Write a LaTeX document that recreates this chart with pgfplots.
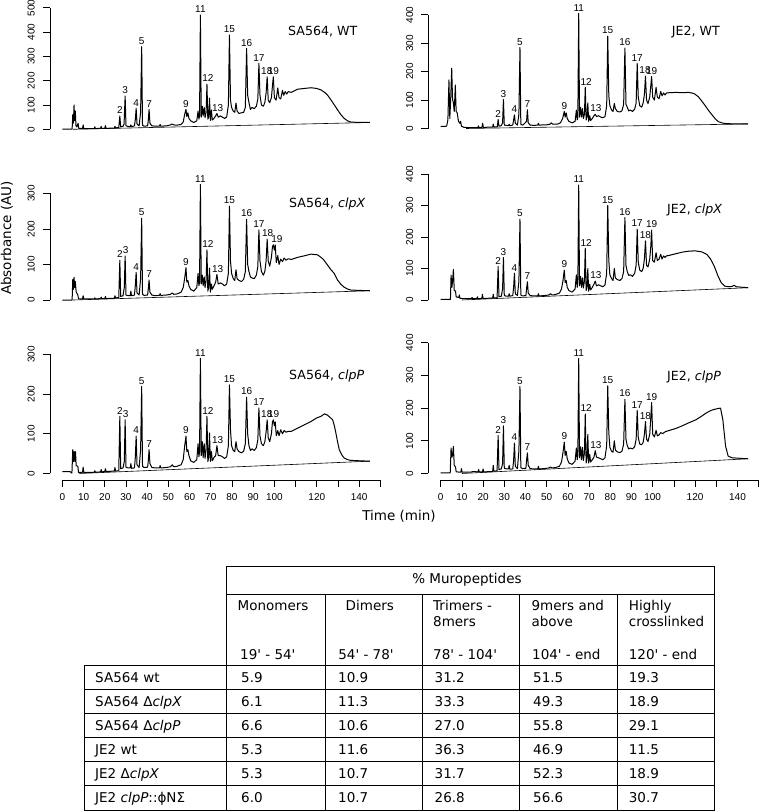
\documentclass[border=0pt]{standalone}
\usepackage{fontspec}
\usepackage{pgfplots}
\pgfplotsset{compat=1.18}
\newfontfamily\dv{DejaVu Sans}
\newfontfamily\lib{Liberation Sans}
\newcommand\tickfont{\lib\fontsize{10}{12}\selectfont}
\newcommand\pkfont{\lib\fontsize{10}{12}\selectfont}
\newcommand\bigfont{\dv\fontsize{13.5}{16}\selectfont}
\newcommand\titlefont{\dv\fontsize{12.6}{15}\selectfont}

\pgfplotsset{
  chrom/.style={
    scale only axis, width=334.2pt, anchor=south west,
    xmin=-5.84, xmax=151.8, clip=false,
    axis y line*=left,
    tick align=outside, major tick length=7pt,
    every tick/.style={black, line width=0.7pt},
    axis line style={line width=0.7pt},
    y axis line style={shorten <=6.6pt},
    yticklabel style={rotate=90, anchor=south, inner sep=0pt, font=\tickfont},
    yticklabel shift=8pt,
    /pgf/number format/assume math mode=true,
  },
  topx/.style={axis x line=none},
  bottomx/.style={
    axis x line*=bottom,
    x axis line style={shorten <=12.4pt, shorten >=3.8pt},
    xtick={0,10,...,150},
    xticklabels={0,10,20,30,40,50,60,70,80,90,100,,120,,140,},
    xticklabel style={anchor=north, inner sep=0pt, font=\tickfont},
    xticklabel shift=6pt,
  },
  trace/.style={black, line width=1pt, line join=round, mark=none},
  base/.style={black, line width=0.6pt, mark=none},
}
\tikzset{pk/.style={anchor=south, inner sep=0pt, yshift=2pt, font=\pkfont}}

\begin{document}
\begin{tikzpicture}
\useasboundingbox (0,0) rectangle (760pt,-811pt);

% ---- SA564, WT
\begin{axis}[chrom, topx, at={(50pt,-136pt)}, height=128.2pt, ymin=-27.6, ymax=500, ytick={0,100,...,500}]
\addplot[base] coordinates {(5,0) (145,28)};
\addplot[trace] coordinates {
(0,1) (4.6,1) (4.9,60) (5.2,25) (5.5,100) (5.8,35) (6.1,75) (6.4,15) (6.8,10) (7.4,25) (7.7,4) (9.5,3) (9.8,18) (10.1,3)
(15,3) (15.3,10) (15.6,3) (18,4) (18.3,12) (18.6,4) (20,4) (20.3,15) (20.6,4) (24.5,5) (24.8,12) (25.1,6) (26.6,7) (27.1,55)
(27.5,10) (28.6,12) (29.1,22) (29.6,137) (30,14) (31,12) (32,11) (32.3,18) (32.6,11) (34,14) (34.4,40) (34.8,86) (35.2,22)
(36.2,14) (36.9,70) (37.4,340) (37.8,16) (38.5,13) (40.2,14) (40.5,35) (40.9,82) (41.3,25) (42.2,14) (44,13) (45.8,13)
(46.1,20) (46.4,13) (49,14) (50,16) (51,18) (51.8,22) (52.5,18) (54,17) (56,20) (57,30) (57.7,62) (58.3,82) (58.7,52)
(59.2,68) (59.7,45) (60.5,35) (62,28) (63.4,35) (64,75) (64.4,42) (64.7,55) (65.1,470) (65.5,50) (66,95) (66.4,55) (66.9,90)
(67.3,48) (67.8,70) (68.2,186) (68.6,42) (69,50) (69.4,128) (69.8,36) (70.3,80) (70.7,38) (71.5,45) (72.3,55) (72.9,65)
(73.5,50) (74.5,55) (75.5,50) (76.5,45) (77.5,50) (78.3,100) (78.8,388) (79.3,120) (79.8,90) (80.6,75) (81.3,70) (81.9,108)
(82.4,75) (83.3,65) (84.5,68) (85.5,70) (86.3,90) (86.9,333) (87.4,140) (88,110) (88.7,82) (89.5,90) (90.5,85) (91.5,95)
(92.2,125) (92.7,272) (93.2,140) (93.9,100) (94.8,95) (95.5,110) (96.1,150) (96.6,216) (97.1,120) (97.8,110) (98.6,130)
(99.1,180) (99.5,216) (100,130) (100.8,120) (101.6,170) (102.2,130) (103,125) (103.8,160) (104.4,140) (105.1,155) (105.8,145)
(106.5,155) (108,152) (111,165) (114,168) (117.3,171) (120,168) (122,162) (124,150) (125.3,138) (126.7,121) (128.3,100)
(129.8,80) (131.4,60) (132.9,45) (134.5,35) (136,30) (140,28) (145,28)};
\node[pk] at (axis cs:27.1,55) {2}; \node[pk] at (axis cs:29.6,137) {3}; \node[pk] at (axis cs:34.8,86) {4};
\node[pk] at (axis cs:37.4,340) {5}; \node[pk] at (axis cs:40.9,82) {7}; \node[pk] at (axis cs:58.3,82) {9};
\node[pk] at (axis cs:65.1,470) {11}; \node[pk] at (axis cs:68.6,186) {12}; \node[pk] at (axis cs:73.2,65) {13};
\node[pk] at (axis cs:78.8,388) {15}; \node[pk] at (axis cs:86.9,333) {16}; \node[pk] at (axis cs:92.7,272) {17};
\node[pk] at (axis cs:96.4,216) {18}; \node[pk] at (axis cs:99.5,216) {19};
\end{axis}

% ---- JE2, WT
\begin{axis}[chrom, topx, at={(428.3pt,-135.2pt)}, height=120.4pt, ymin=-23.6, ymax=400, ytick={0,100,...,400}]
\addplot[base] coordinates {(12,0) (145,16)};
\addplot[trace] coordinates {
(0,7) (2.8,8) (3.4,30) (3.9,171) (4.3,35) (4.7,100) (5.2,212) (5.6,100) (5.9,95) (6.4,60) (6.9,153) (7.3,60) (7.8,55)
(8.4,25) (9.1,18) (9.4,25) (9.8,8) (11,4) (14,3) (17.5,3) (17.8,9) (18.1,3) (19.5,4) (19.8,18) (20.1,4) (24.5,5) (24.8,15)
(25.1,5) (26.7,6) (27.1,32) (27.5,8) (28.6,10) (29.2,20) (29.6,102) (30,12) (32,10) (32.3,15) (32.6,10) (34,12) (34.4,30)
(34.8,48) (35.2,18) (36.2,12) (36.9,50) (37.4,285) (37.8,14) (38.8,12) (40.5,25) (40.9,66) (41.3,20) (42.2,12) (44,11)
(45.8,12) (46.1,18) (46.4,12) (50,13) (51.5,15) (52.2,20) (52.8,15) (55,15) (56.5,20) (57.5,35) (58.3,60) (58.7,40)
(59.2,55) (59.7,35) (60.5,25) (62,20) (63.4,25) (64,65) (64.4,30) (64.7,40) (65.1,405) (65.5,40) (66,75) (66.4,40) (66.9,70)
(67.3,35) (67.8,50) (68.2,145) (68.6,30) (69,40) (69.4,90) (69.8,25) (70.3,45) (70.7,28) (71.5,35) (72.3,45) (72.9,50)
(73.5,42) (74.5,45) (75.5,40) (76.5,38) (77.5,42) (78.3,80) (78.8,325) (79.3,115) (79.8,80) (80.6,65) (81.3,60) (81.9,88)
(82.4,70) (83.3,60) (84.5,58) (85.5,62) (86.3,85) (86.9,283) (87.4,85) (88,75) (88.7,62) (89.5,65) (90.5,60) (91.5,68)
(92.2,90) (92.7,229) (93.2,110) (93.9,80) (94.8,75) (95.5,90) (96.1,120) (96.6,184) (97.1,100) (97.8,88) (98.6,110)
(99.1,150) (99.5,183) (100,110) (100.8,100) (101.6,145) (102.2,110) (103,105) (103.8,130) (104.4,115) (105.1,125)
(105.8,118) (106.5,125) (108,126) (111,127) (114,126) (117,127) (119.5,123) (121.5,112) (123,98) (125,78) (126.5,62)
(128,48) (129.5,34) (131,24) (133,19) (135,17) (140,16) (145,16)};
\node[pk] at (axis cs:27.1,32) {2}; \node[pk] at (axis cs:29.6,102) {3}; \node[pk] at (axis cs:34.8,48) {4};
\node[pk] at (axis cs:37.4,285) {5}; \node[pk] at (axis cs:40.9,66) {7}; \node[pk] at (axis cs:58.3,60) {9};
\node[pk] at (axis cs:65.1,405) {11}; \node[pk] at (axis cs:68.6,145) {12}; \node[pk] at (axis cs:73.2,50) {13};
\node[pk] at (axis cs:78.8,325) {15}; \node[pk] at (axis cs:86.9,283) {16}; \node[pk] at (axis cs:92.7,229) {17};
\node[pk] at (axis cs:96.4,184) {18}; \node[pk] at (axis cs:99.5,183) {19};
\end{axis}

% ---- SA564, clpX
\begin{axis}[chrom, topx, at={(50pt,-306.7pt)}, height=113.4pt, ymin=-18.8, ymax=300, ytick={0,100,...,300}]
\addplot[base] coordinates {(5,0) (145,26)};
\addplot[trace] coordinates {
(0,0) (4.6,0) (4.9,58) (5.2,30) (5.5,64) (5.8,35) (6.1,52) (6.5,23) (7.3,14) (7.6,3) (9.5,3) (9.8,12) (10.1,3) (15,3)
(15.3,6) (15.6,3) (18,4) (18.3,8) (18.6,4) (20,4) (20.3,10) (20.6,4) (24.5,5) (24.8,12) (25.1,6) (26.6,7) (27.1,112)
(27.5,10) (28.6,12) (29.2,35) (29.6,124) (30,14) (31,12) (32,12) (32.3,25) (32.6,12) (34,14) (34.4,40) (34.8,78) (35.2,20)
(36.2,14) (36.9,60) (37.4,230) (37.8,16) (38.5,13) (40.2,14) (40.5,30) (40.9,56) (41.3,22) (42.2,14) (44,12) (45.8,13)
(46.1,18) (46.4,13) (49,14) (50,15) (51,16) (51.8,20) (52.5,16) (54,17) (56,22) (57,35) (57.7,62) (58.3,91) (58.7,50)
(59.2,55) (59.7,40) (60.5,30) (62,25) (63.4,35) (64,75) (64.4,40) (64.7,50) (65.1,325) (65.5,45) (66,70) (66.4,40) (66.9,65)
(67.3,35) (67.8,55) (68.2,141) (68.6,25) (69,35) (69.4,90) (69.8,22) (70.3,45) (70.7,30) (71.5,40) (72.3,50) (72.9,72)
(73.5,45) (74.5,48) (75.5,45) (76.5,40) (77.5,45) (78.3,75) (78.8,264) (79.3,110) (79.8,75) (80.6,60) (81.3,55) (81.9,85)
(82.4,60) (83.3,55) (84.5,52) (85.5,58) (86.3,80) (86.9,227) (87.4,100) (88,80) (88.7,65) (89.5,62) (90.5,60) (91.5,70)
(92.2,95) (92.7,197) (93.2,110) (93.9,80) (94.8,70) (95.5,80) (96.1,110) (96.6,171) (97.1,110) (97.8,95) (98.6,120)
(99.1,150) (99.5,155) (100,140) (100.4,155) (100.9,105) (101.6,125) (102.2,100) (103,115) (103.8,108) (104.6,118)
(105.5,112) (106.5,116) (108,114) (111,120) (114,124) (117.3,129) (120.4,127) (123,115) (125.1,98) (126.7,85) (128.2,75)
(129.8,56) (131.4,44) (132.9,36) (134.5,31) (136,28) (140,27) (145,26)};
\node[pk] at (axis cs:27.1,112) {2}; \node[pk] at (axis cs:29.8,124) {3}; \node[pk] at (axis cs:34.8,78) {4};
\node[pk] at (axis cs:37.4,230) {5}; \node[pk] at (axis cs:40.9,56) {7}; \node[pk] at (axis cs:58.3,91) {9};
\node[pk] at (axis cs:65.1,325) {11}; \node[pk] at (axis cs:68.6,141) {12}; \node[pk] at (axis cs:73.2,72) {13};
\node[pk] at (axis cs:78.8,264) {15}; \node[pk] at (axis cs:86.9,227) {16}; \node[pk] at (axis cs:92.7,197) {17};
\node[pk] at (axis cs:96.8,171) {18}; \node[pk] at (axis cs:101.2,155) {19};
\end{axis}

% ---- JE2, clpX
\begin{axis}[chrom, topx, at={(428.3pt,-306.7pt)}, height=132.7pt, ymin=-21.3, ymax=400, ytick={0,100,...,400}]
\addplot[base] coordinates {(10,0) (145,39)};
\addplot[trace] coordinates {
(0,2) (4.6,2) (4.9,79) (5.3,40) (5.6,60) (6,97) (6.4,30) (7,28) (7.3,10) (8.5,8) (8.8,16) (9.1,5) (12,4) (14.5,4) (14.8,8)
(15.1,4) (17,4) (17.3,10) (17.6,4) (19.4,5) (19.7,18) (20,5) (24.5,6) (24.8,18) (25.1,6) (26.6,7) (27.1,106) (27.5,10)
(28.6,12) (29.2,35) (29.6,135) (30,14) (31,12) (32,12) (32.3,20) (32.6,12) (34,14) (34.4,40) (34.8,85) (35.2,20) (36.2,14)
(36.9,60) (37.4,257) (37.8,16) (38.5,13) (40.2,14) (40.5,35) (40.9,58) (41.3,22) (42.2,14) (44,13) (45.8,13) (46.1,20)
(46.4,13) (49,14) (50,15) (51,16) (51.8,20) (52.5,16) (54,17) (56,22) (57,35) (57.7,62) (58.3,95) (58.7,55) (59.2,62)
(59.7,40) (60.5,30) (62,25) (63.4,35) (64,80) (64.4,40) (64.7,55) (65.1,365) (65.5,45) (66,75) (66.4,40) (66.9,70) (67.3,38)
(67.8,60) (68.2,164) (68.6,30) (69,38) (69.4,100) (69.8,28) (70.3,50) (70.7,32) (71.5,40) (72.3,50) (72.9,60) (73.5,45)
(74.5,48) (75.5,45) (76.5,42) (77.5,48) (78.3,85) (78.8,300) (79.3,125) (79.8,80) (80.6,68) (81.3,62) (81.9,100) (82.4,70)
(83.3,65) (84.5,62) (85.5,68) (86.3,90) (86.9,262) (87.4,110) (88,90) (88.7,78) (89.5,80) (90.5,75) (91.5,85) (92.2,110)
(92.7,225) (93.2,120) (93.9,95) (94.8,90) (95.5,100) (96.1,130) (96.6,188) (97.1,110) (97.8,105) (98.6,130) (99.1,170)
(99.5,222) (100,125) (100.8,120) (101.6,150) (102.2,125) (103,130) (103.8,145) (104.4,130) (105.1,140) (105.8,135)
(106.5,140) (108,142) (111,147) (114,152) (117,155) (120,156) (123,153) (125.5,145) (127.3,130) (129,108) (130.7,78)
(132.3,55) (134,44) (136,42) (137.5,43) (138.3,47) (139.5,42) (145,39)};
\node[pk] at (axis cs:27.1,106) {2}; \node[pk] at (axis cs:29.6,135) {3}; \node[pk] at (axis cs:34.8,85) {4};
\node[pk] at (axis cs:37.4,257) {5}; \node[pk] at (axis cs:40.9,58) {7}; \node[pk] at (axis cs:58.3,95) {9};
\node[pk] at (axis cs:65.1,365) {11}; \node[pk] at (axis cs:68.6,164) {12}; \node[pk] at (axis cs:73.2,60) {13};
\node[pk] at (axis cs:78.8,300) {15}; \node[pk] at (axis cs:86.9,262) {16}; \node[pk] at (axis cs:92.7,225) {17};
\node[pk] at (axis cs:96.6,188) {18}; \node[pk] at (axis cs:99.5,222) {19};
\end{axis}

% ---- SA564, clpP
\begin{axis}[chrom, bottomx, at={(50pt,-480pt)}, height=125.7pt, ymin=-16.4, ymax=300, ytick={0,100,...,300}]
\addplot[base] coordinates {(8,0) (145,31)};
\addplot[trace] coordinates {
(0,5) (3.5,5) (4.5,1) (4.9,60) (5.2,30) (5.6,55) (5.9,30) (6.2,55) (6.5,20) (7.3,18) (7.6,3) (9.5,3) (9.8,16) (10.1,3)
(15,3) (15.3,7) (15.6,3) (18,4) (18.3,10) (18.6,4) (20,5) (20.3,12) (20.6,5) (24.5,6) (24.8,15) (25.1,6) (26.6,7) (27.1,144)
(27.5,12) (28.6,14) (29.2,30) (29.6,135) (30,16) (31,14) (32,14) (32.3,25) (32.6,13) (34,14) (34.4,40) (34.8,94) (35.2,22)
(36.2,15) (36.9,60) (37.4,219) (37.8,18) (38.5,15) (40.2,16) (40.5,30) (40.9,60) (41.3,25) (42.2,15) (44,14) (45.8,14)
(46.1,20) (46.4,14) (49,15) (50,16) (51,17) (51.8,22) (52.5,17) (54,18) (56,22) (57,35) (57.7,70) (58.3,94) (58.7,55)
(59.2,60) (59.7,45) (60.5,32) (62,28) (63.4,35) (64,75) (64.4,42) (64.7,55) (65.1,290) (65.5,45) (66,80) (66.4,40) (66.9,75)
(67.3,38) (67.8,60) (68.2,144) (68.6,30) (69,40) (69.4,102) (69.8,30) (70.3,55) (70.7,32) (71.5,40) (72.3,45) (72.9,70)
(73.5,45) (74.5,45) (75.5,42) (76.5,38) (77.5,42) (78.3,70) (78.8,223) (79.3,110) (79.8,70) (80.6,58) (81.3,55) (81.9,80)
(82.4,62) (83.3,55) (84.5,52) (85.5,56) (86.3,75) (86.9,192) (87.4,100) (88,70) (88.7,58) (89.5,62) (90.5,58) (91.5,65)
(92.2,85) (92.7,165) (93.2,95) (93.9,75) (94.8,70) (95.5,80) (96.1,105) (96.6,135) (97.1,90) (97.8,80) (98.6,100)
(99.1,130) (99.5,135) (100,120) (100.4,130) (100.9,95) (101.6,108) (102.2,95) (103,110) (103.8,100) (104.6,108)
(105.5,104) (106.5,106) (108,106) (111,114) (114,122) (117.3,131) (120,140) (122,144) (123.6,150) (125,147) (126.5,140)
(127.5,135) (128.3,120) (129,102) (129.8,80) (130.6,60) (131.8,47) (132.9,39) (134.5,35) (136,33) (140,32) (145,31)};
\node[pk] at (axis cs:27.1,144) {2}; \node[pk] at (axis cs:29.8,135) {3}; \node[pk] at (axis cs:34.8,94) {4};
\node[pk] at (axis cs:37.4,219) {5}; \node[pk] at (axis cs:40.9,60) {7}; \node[pk] at (axis cs:58.3,94) {9};
\node[pk] at (axis cs:65.1,290) {11}; \node[pk] at (axis cs:68.6,144) {12}; \node[pk] at (axis cs:73.2,70) {13};
\node[pk] at (axis cs:78.8,223) {15}; \node[pk] at (axis cs:86.9,192) {16}; \node[pk] at (axis cs:92.7,165) {17};
\node[pk] at (axis cs:96.4,135) {18}; \node[pk] at (axis cs:99.6,135) {19};
\end{axis}

% ---- JE2, clpP
\begin{axis}[chrom, bottomx, at={(428.3pt,-480pt)}, height=137.3pt, ymin=-19.9, ymax=400, ytick={0,100,...,400}]
\addplot[base] coordinates {(10,0) (145,45)};
\addplot[trace] coordinates {
(0,2) (4.5,2) (4.9,78) (5.3,50) (5.6,55) (6,83) (6.4,25) (7,20) (7.3,5) (9.5,4) (9.8,15) (10.1,4) (14,4) (15.3,6) (17.6,5)
(17.9,12) (18.2,5) (19.7,5) (20,14) (20.3,5) (24.5,6) (24.8,25) (25.1,7) (26.6,8) (27.1,116) (27.5,12) (28.6,14) (29.2,30)
(29.6,146) (30,16) (31,14) (32,14) (32.3,25) (32.6,13) (34,14) (34.4,40) (34.8,93) (35.2,22) (36.2,15) (36.9,70) (37.4,266)
(37.8,18) (38.5,15) (40.2,16) (40.5,40) (40.9,63) (41.3,25) (42.2,15) (44,14) (45.8,14) (46.1,22) (46.4,14) (49,15) (50,16)
(51,17) (51.8,20) (52.5,17) (54,18) (56,22) (57,35) (57.7,65) (58.3,96) (58.7,55) (59.2,68) (59.7,45) (60.5,32) (62,28)
(63.4,38) (64,78) (64.4,42) (64.7,55) (65.1,352) (65.5,48) (66,82) (66.4,42) (66.9,80) (67.3,40) (67.8,62) (68.2,182)
(68.6,32) (69,42) (69.4,120) (69.8,32) (70.3,58) (70.7,35) (71.5,42) (72.3,50) (72.9,70) (73.5,50) (74.5,48) (75.5,45)
(76.5,42) (77.5,48) (78.3,85) (78.8,268) (79.3,125) (79.8,80) (80.6,68) (81.3,65) (81.9,100) (82.4,72) (83.3,66) (84.5,64)
(85.5,68) (86.3,90) (86.9,227) (87.4,105) (88,85) (88.7,75) (89.5,78) (90.5,75) (91.5,82) (92.2,105) (92.7,193) (93.2,110)
(93.9,90) (94.8,88) (95.5,95) (96.1,120) (96.6,159) (97.1,105) (97.8,98) (98.6,120) (99.1,170) (99.5,217) (100,120)
(100.8,112) (101.6,132) (102.2,115) (103,118) (103.8,125) (104.7,122) (106,128) (108,132) (111,138) (114,146) (117,155)
(120.3,164) (123,175) (125,184) (126.6,190) (128,194) (129.7,197) (131,199) (132,200) (133.1,164) (134.4,83) (135.6,53)
(137.5,48) (140,47) (145,45)};
\node[pk] at (axis cs:27.1,116) {2}; \node[pk] at (axis cs:29.6,146) {3}; \node[pk] at (axis cs:34.8,93) {4};
\node[pk] at (axis cs:37.4,266) {5}; \node[pk] at (axis cs:40.9,63) {7}; \node[pk] at (axis cs:58.3,96) {9};
\node[pk] at (axis cs:65.1,352) {11}; \node[pk] at (axis cs:68.6,182) {12}; \node[pk] at (axis cs:73.2,70) {13};
\node[pk] at (axis cs:78.8,268) {15}; \node[pk] at (axis cs:86.9,227) {16}; \node[pk] at (axis cs:92.7,193) {17};
\node[pk] at (axis cs:96.6,159) {18}; \node[pk] at (axis cs:99.5,217) {19};
\end{axis}

% panel titles and axis titles
\node[anchor=west, inner sep=0pt, font=\titlefont] at (288pt,-31.7pt) {SA564, WT};
\node[anchor=west, inner sep=0pt, font=\titlefont] at (671.7pt,-31.7pt) {JE2, WT};
\node[anchor=west, inner sep=0pt, font=\titlefont] at (289pt,-203.7pt) {SA564, \textit{clpX}};
\node[anchor=west, inner sep=0pt, font=\titlefont] at (667pt,-210pt) {JE2, \textit{clpX}};
\node[anchor=west, inner sep=0pt, font=\titlefont] at (289pt,-375.8pt) {SA564, \textit{clpP}};
\node[anchor=west, inner sep=0pt, font=\titlefont] at (667pt,-377pt) {JE2, \textit{clpP}};
\node[rotate=90, inner sep=0pt, font=\bigfont] at (7pt,-238pt) {Absorbance (AU)};
\node[inner sep=0pt, font=\bigfont] at (399pt,-516pt) {Time (min)};

% table
\begin{scope}[line width=1pt]
\draw (226.8pt,-566.7pt) rectangle (714.3pt,-810pt);
\draw (226.8pt,-594pt) -- (714.3pt,-594pt);
\foreach \x in {325,422.4,519.7,617} \draw (\x pt,-594pt) -- (\x pt,-810pt);
\draw (84.3pt,-665pt) -- (84.3pt,-810pt);
\foreach \y in {665,689.2,713.3,737.5,761.7,785.8,810} \draw (84.3pt,-\y pt) -- (714.3pt,-\y pt);
\end{scope}
\begin{scope}[every node/.style={anchor=base west, inner sep=0pt, font=\bigfont}]
\node[anchor=center] at (467pt,-580pt) {\% Muropeptides};
\node at (237.5pt,-610pt) {Monomers};
\node at (345.5pt,-610pt) {Dimers};
\node at (433pt,-610pt) {Trimers -};
\node at (433pt,-626.6pt) {8mers};
\node at (531.4pt,-610pt) {9mers and};
\node at (531.4pt,-626.6pt) {above};
\node at (628.7pt,-610pt) {Highly};
\node at (628.7pt,-626.6pt) {crosslinked};
\node at (240pt,-659pt) {19' - 54'};
\node at (338.2pt,-659pt) {54' - 78'};
\node at (433pt,-659pt) {78' - 104'};
\node at (532pt,-659pt) {104' - end};
\node at (628.7pt,-659pt) {120' - end};
\foreach \lab/\a/\b/\c/\d/\e [count=\i] in {
  SA564 wt/5.9/10.9/31.2/51.5/19.3,
  SA564 Δ\textit{clpX}/6.1/11.3/33.3/49.3/18.9,
  SA564 Δ\textit{clpP}/6.6/10.6/27.0/55.8/29.1,
  JE2 wt/5.3/11.6/36.3/46.9/11.5,
  JE2 Δ\textit{clpX}/5.3/10.7/31.7/52.3/18.9,
  JE2 \textit{clpP}::ϕNΣ/6.0/10.7/26.8/56.6/30.7} {
  \pgfmathsetmacro\yy{-(677.1+24.15*(\i-1)+4.9)}
  \node at (95pt,\yy pt) {\lab};
  \node at (241pt,\yy pt) {\a};
  \node at (338pt,\yy pt) {\b};
  \node at (434.5pt,\yy pt) {\c};
  \node at (533pt,\yy pt) {\d};
  \node at (628.7pt,\yy pt) {\e};
}
\end{scope}
\end{tikzpicture}
\end{document}
